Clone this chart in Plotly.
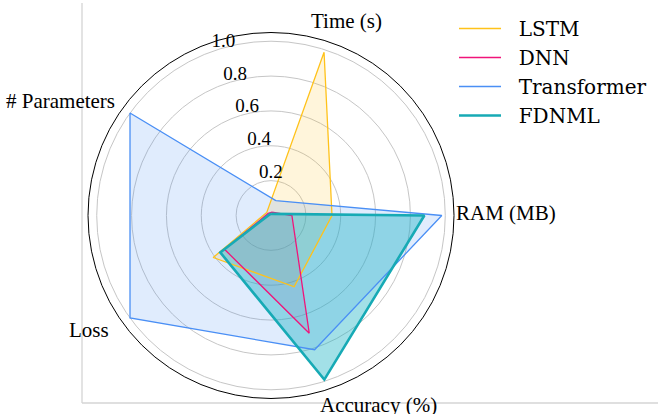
import plotly.graph_objects as go

categories = ["Time (s)", "RAM (MB)", "Accuracy (%)", "Loss", "# Parameters"]
series_names = ["LSTM", "DNN", "Transformer", "FDNML"]
lstm = [0.985, 0.35, 0.43, 0.41, 0.03]
dnn = [0.02, 0.12, 0.71, 0.33, 0.02]
transformer = [0.09, 0.98, 0.81, 1.0, 1.0]
fdnml = [0.01, 0.88, 0.99, 0.36, 0.01]
radial_ticks = [0.2, 0.4, 0.6, 0.8, 1.0]
radial_tick_labels = ["0.2", "0.4", "0.6", "0.8", "1.0"]

values = [lstm, dnn, transformer, fdnml]
line_colors = ["#ffc21a", "#f0147a", "#4a8ff5", "#17aab5"]
fill_colors = ["rgba(255,193,30,0.16)", "rgba(235,30,120,0.14)",
               "rgba(74,143,245,0.17)", "rgba(23,178,195,0.40)"]
line_widths = [1.3, 1.3, 1.3, 2.6]

W, H = 658, 414
cx, cy, R = 271, 215.5, 183
r_range = [0, 1.05]
tick_label_angle = 110

# angular label placement (pixel positions of label centres)
label_pos = {"Time (s)": (346, 21), "RAM (MB)": (506, 213),
             "Accuracy (%)": (378, 405), "Loss": (89, 330),
             "# Parameters": (60, 101)}

fig = go.Figure()
theta_closed = categories + [categories[0]]
for name, v, fc in zip(series_names, values, fill_colors):
    fig.add_trace(go.Scatterpolar(
        r=v + [v[0]], theta=theta_closed, mode="lines", fill="toself",
        fillcolor=fc, line=dict(width=0, color="rgba(0,0,0,0)"),
        showlegend=False, hoverinfo="skip"))
for name, v, lc, lw in zip(series_names, values, line_colors, line_widths):
    fig.add_trace(go.Scatterpolar(
        r=v + [v[0]], theta=theta_closed, mode="lines",
        name="\u00a0\u00a0" + name,
        line=dict(width=lw, color=lc), showlegend=True))

# radial tick labels, placed through an overlaid numeric polar subplot
fig.add_trace(go.Scatterpolar(
    r=radial_ticks, theta=[tick_label_angle] * len(radial_ticks),
    mode="text", text=radial_tick_labels, textposition="top right",
    textfont=dict(family="Liberation Serif", size=19, color="black"),
    subplot="polar2", showlegend=False, hoverinfo="skip"))

annotations = [dict(text=c, xref="paper", yref="paper",
                    x=label_pos[c][0] / W, y=1 - label_pos[c][1] / H,
                    xanchor="center", yanchor="middle", showarrow=False,
                    font=dict(family="Liberation Serif", size=21, color="black"))
               for c in categories]

domain = dict(x=[(cx - R) / W, (cx + R) / W],
              y=[(H - cy - R) / H, (H - cy + R) / H])

fig.update_layout(
    width=W, height=H,
    margin=dict(l=0, r=0, t=0, b=0),
    paper_bgcolor="white",
    font=dict(family="Liberation Serif", color="black"),
    polar=dict(
        domain=domain,
        bgcolor="white",
        radialaxis=dict(range=r_range, tickvals=radial_ticks,
                        showticklabels=False, angle=108,
                        showline=False, ticks="", gridcolor="#c6c6c6",
                        gridwidth=1),
        angularaxis=dict(rotation=72, direction="clockwise", showgrid=False,
                         showline=True, linecolor="black", linewidth=1,
                         ticks="", showticklabels=False),
    ),
    polar2=dict(
        domain=domain,
        bgcolor="rgba(0,0,0,0)",
        radialaxis=dict(range=r_range, visible=False, showgrid=False),
        angularaxis=dict(rotation=0, direction="counterclockwise",
                         visible=False, showgrid=False, showline=False),
    ),
    annotations=annotations,
    legend=dict(x=454 / W, y=1 - 9 / H, xanchor="left", yanchor="top",
                bgcolor="rgba(0,0,0,0)", itemwidth=42,
                font=dict(family="DejaVu Serif", size=20, color="black")),
    shapes=[
        dict(type="line", xref="paper", yref="paper",
             x0=82 / W, x1=82 / W, y0=(H - 403) / H, y1=(H - 3) / H,
             line=dict(color="#d4d4d4", width=1.3), layer="below"),
        dict(type="line", xref="paper", yref="paper",
             x0=82 / W, x1=1, y0=(H - 403) / H, y1=(H - 403) / H,
             line=dict(color="#d4d4d4", width=1.3), layer="below"),
    ],
)

fig.write_html("out.html", config={"displayModeBar": False},
               post_script="document.body.style.margin='0px';")
